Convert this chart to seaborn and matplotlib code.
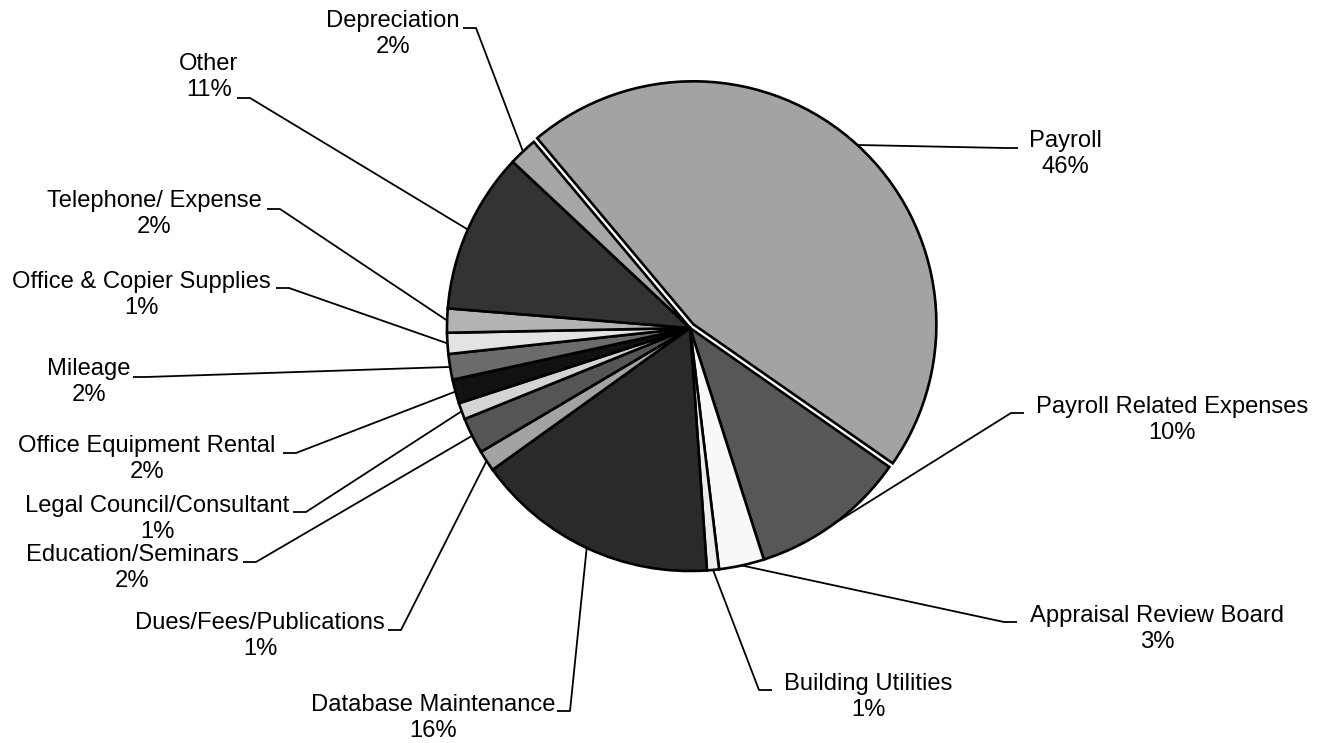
import numpy as np
import seaborn as sns
import matplotlib.pyplot as plt

# Dados: distribuição das despesas (em %)
categorias = ["Payroll", "Payroll Related Expenses", "Appraisal Review Board",
              "Building Utilities", "Database Maintenance", "Dues/Fees/Publications",
              "Education/Seminars", "Legal Council/Consultant", "Office Equipment Rental",
              "Mileage", "Office & Copier Supplies", "Telephone/ Expense", "Other",
              "Depreciation"]
valores = [45.8, 10.4, 3.0, 0.8, 16.2, 1.4, 2.4, 1.1, 1.6, 1.7, 1.4, 1.6, 10.7, 1.9]
cores = ["#a3a3a3", "#575757", "#f8f8f8", "#ececec", "#2a2a2a", "#a3a3a3",
         "#555555", "#d4d4d4", "#111111", "#6b6b6b", "#e3e3e3", "#b3b3b3",
         "#333333", "#a6a6a6"]
destaque = [5] + [0] * 13  # deslocamento em pixels (só Payroll)

# Layout dos rótulos (pixels da imagem): centro do texto e início do traço horizontal
pos_texto = [(1065, 154), (1172, 420), (1157, 629), (868, 697), (433, 718),
             (260, 636), (132, 568), (157, 519), (147, 459), (89, 382),
             (141, 295), (154, 214), (209, 77), (393, 34)]
pos_traco = [(1005, 148), (1011, 413), (1004, 622), (759, 690), (570, 711),
             (401, 630), (256, 562), (306, 512), (296, 453), (146, 377),
             (289, 288), (280, 209), (250, 98), (476, 28)]

W, H = 1328, 743
cx, cy, R = 690, 328, 243

sns.set_style("white")
plt.rcParams["font.family"] = ["Liberation Sans", "DejaVu Sans"]

fig = plt.figure(figsize=(W / 100, H / 100), dpi=100)
ax = fig.add_axes([0, 0, 1, 1])

fatias, _ = ax.pie(valores, colors=cores, explode=destaque, startangle=130,
                   counterclock=False, center=(cx, H - cy), radius=R,
                   wedgeprops=dict(edgecolor="black", linewidth=1.9))

for fatia, nome, v, (tx, ty), (sx, sy), ex in zip(fatias, categorias, valores,
                                                  pos_texto, pos_traco, destaque):
    ang = np.deg2rad((fatia.theta1 + fatia.theta2) / 2)
    px = cx + (R + ex) * np.cos(ang)
    py = (H - cy) + (R + ex) * np.sin(ang)
    lado = 13 if sx < cx else -13
    ax.plot([px, sx, sx - lado], [py, H - sy, H - sy], color="black", lw=1.3,
            solid_capstyle="butt", zorder=0)
    ax.text(tx, H - ty, f"{nome}\n{v:.0f}%", ha="center", va="center",
            fontsize=17.1, color="black", linespacing=1.2)

ax.set_xlim(0, W)
ax.set_ylim(0, H)
ax.set_aspect("equal")
ax.axis("off")

plt.savefig("out.png", dpi=100)
